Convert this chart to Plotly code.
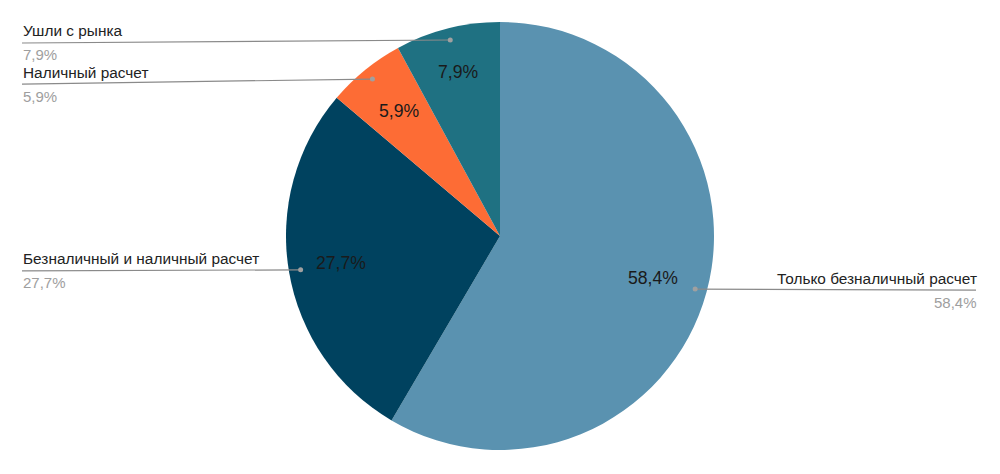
import math
import plotly.graph_objects as go

labels = ["Только безналичный расчет", "Безналичный и наличный расчет", "Наличный расчет", "Ушли с рынка"]
values = [58.4, 27.7, 5.9, 7.9]
value_text = ["58,4%", "27,7%", "5,9%", "7,9%"]
colors = ["#5a92b0", "#00425f", "#fd6c35", "#1f7182"]

W, H = 1000, 474
CX, CY, R = 500, 236, 214
FONT = "Liberation Sans, Arial"

fig = go.Figure(go.Pie(
    labels=labels, values=values,
    textinfo="none",
    marker=dict(colors=colors, line=dict(width=0)),
    sort=False, direction="clockwise", rotation=0,
    hoverinfo="label+percent", showlegend=False,
    domain=dict(x=[0, 1], y=[(H - (CY + R)) / H, (H - (CY - R)) / H]),
))

def px(x, y):
    return x / W, 1 - y / H

total = sum(values)
cum = 0
shapes, annotations = [], []
label_dy = [1, 1, 5, 3]
inner_r = [0.74, 0.755, 0.75, 0.79]
for i, v in enumerate(values):
    mid = (cum + v / 2) / total * 2 * math.pi
    cum += v
    dx, dy = math.sin(mid), -math.cos(mid)
    # inside percentage label
    ix, iy = px(CX + inner_r[i] * R * dx, CY + inner_r[i] * R * dy)
    annotations.append(dict(x=ix, y=iy, xref="paper", yref="paper", text=value_text[i],
                            showarrow=False, xanchor="center", yanchor="middle",
                            font=dict(family=FONT, size=17.6, color="#1a1a1a")))
    # leader
    x0 = CX + 0.945 * R * dx
    y0 = CY + 0.945 * R * dy
    ly = y0 + label_dy[i]
    right = dx > 0
    x1 = 976 if right else 22
    ax0, ay0 = px(x0, y0)
    ax1, ay1 = px(x1, ly)
    shapes.append(dict(type="line", xref="paper", yref="paper", x0=ax0, y0=ay0, x1=ax1, y1=ay1,
                       line=dict(color="#8a8a8a", width=1.2)))
    shapes.append(dict(type="circle", xref="paper", yref="paper",
                       x0=(x0 - 2.5) / W, x1=(x0 + 2.5) / W, y0=1 - (y0 + 2.5) / H, y1=1 - (y0 - 2.5) / H,
                       fillcolor="#a0a0a0", line=dict(width=0)))
    anchor = "right" if right else "left"
    tx = (x1 + 3) / W if right else (x1 - 1) / W
    annotations.append(dict(x=tx, y=px(0, ly - 12)[1], xref="paper", yref="paper", text=labels[i],
                            showarrow=False, xanchor=anchor, yanchor="middle",
                            font=dict(family=FONT, size=15.4, color="#222222")))
    annotations.append(dict(x=tx, y=px(0, ly + 12)[1], xref="paper", yref="paper", text=value_text[i],
                            showarrow=False, xanchor=anchor, yanchor="middle",
                            font=dict(family=FONT, size=15, color="#9e9e9e")))

fig.update_layout(width=W, height=H, margin=dict(l=0, r=0, t=0, b=0),
                  paper_bgcolor="white", plot_bgcolor="white",
                  shapes=shapes, annotations=annotations)
fig.write_html("out.html")
